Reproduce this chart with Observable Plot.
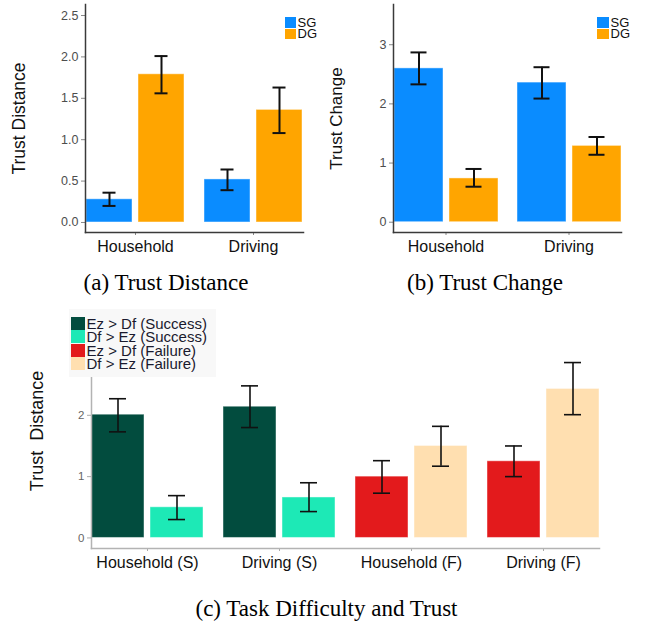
<!DOCTYPE html>
<html><head><meta charset="utf-8">
<script src="https://cdn.jsdelivr.net/npm/d3@7"></script>
<script src="https://cdn.jsdelivr.net/npm/@observablehq/plot@0.6"></script>
<style>
body{margin:0;background:#fff;}
#root{position:relative;width:652px;height:629px;overflow:hidden;font-family:"Liberation Sans",Arial,sans-serif;}
.panel{position:absolute;}
.panel svg{display:block;max-width:none;}
svg text{white-space:pre;}
.cap{position:absolute;font-family:"Liberation Serif","Times New Roman",serif;font-size:23px;line-height:23px;color:#000;text-align:center;white-space:nowrap;}
.leg{position:absolute;}
.leg .row{display:flex;align-items:center;white-space:nowrap;overflow:visible;}
.leg .lab{display:block;overflow:visible;}
</style></head>
<body><div id="root"></div>
<script>
// ---------- data: panels (a) and (b) ----------
const tasksAB = ["Household", "Driving"];
const guidanceAB = ["SG", "DG"];
const guidanceColors = ["#0A8CFF", "#FFA500"];
// order: Household SG, Household DG, Driving SG, Driving DG
const distanceMean = [0.28, 1.79, 0.52, 1.36];
const distanceLow  = [0.20, 1.56, 0.39, 1.08];
const distanceHigh = [0.36, 2.01, 0.64, 1.63];
const changeMean = [2.60, 0.74, 2.36, 1.29];
const changeLow  = [2.33, 0.60, 2.09, 1.14];
const changeHigh = [2.87, 0.90, 2.62, 1.44];
const distanceTicks = [0, 0.5, 1.0, 1.5, 2.0, 2.5];
const changeTicks = [0, 1, 2, 3];

// ---------- data: panel (c) ----------
const tasksC = ["Household (S)", "Driving (S)", "Household (F)", "Driving (F)"];
const conditionsC = ["Ez > Df (Success)", "Df > Ez (Success)", "Ez > Df (Failure)", "Df > Ez (Failure)"];
const conditionColors = ["#024C3E", "#1DE9B6", "#E31A1C", "#FFDFB0"];
// two bars per task, in order
const barTaskC = [0, 0, 1, 1, 2, 2, 3, 3];
const barConditionC = [0, 1, 0, 1, 2, 3, 2, 3];
const difficultyMean = [2.01, 0.50, 2.14, 0.66, 1.00, 1.50, 1.25, 2.43];
const difficultyLow  = [1.73, 0.30, 1.80, 0.43, 0.73, 1.17, 1.00, 2.01];
const difficultyHigh = [2.27, 0.69, 2.48, 0.90, 1.26, 1.82, 1.50, 2.86];
const difficultyTicks = [0, 1, 2, 3];

// ---------- build rows ----------
function rowsAB(mean, lo, hi) {
  const rows = [];
  tasksAB.forEach((t, i) => guidanceAB.forEach((g, j) => {
    const k = i * guidanceAB.length + j;
    rows.push({task: t, slot: j, group: g, mean: mean[k], lo: lo[k], hi: hi[k]});
  }));
  return rows;
}
const rowsA = rowsAB(distanceMean, distanceLow, distanceHigh);
const rowsB = rowsAB(changeMean, changeLow, changeHigh);
const rowsC = difficultyMean.map((m, k) => ({
  task: tasksC[barTaskC[k]], slot: k % 2, group: conditionsC[barConditionC[k]],
  mean: m, lo: difficultyLow[k], hi: difficultyHigh[k]
}));

const root = document.getElementById("root");

function chart(cfg) {
  const p = Plot.plot({
    width: cfg.width, height: cfg.height,
    marginLeft: cfg.ml, marginRight: cfg.mr, marginTop: cfg.mt, marginBottom: cfg.mb,
    style: {fontFamily: "'Liberation Sans', Arial, sans-serif", background: "transparent", overflow: "visible"},
    fx: {domain: cfg.tasks, paddingInner: 0.15, paddingOuter: 0.172, label: null},
    x: {domain: [0, 1], paddingInner: 0.11, paddingOuter: 0, axis: null},
    y: {domain: cfg.yDomain},
    color: {domain: cfg.colorDomain, range: cfg.colorRange},
    marks: [
      Plot.barY(cfg.rows, {fx: "task", x: "slot", y1: 0, y2: "mean", fill: "group",
        stroke: "#ffffff", strokeOpacity: 0.45, strokeWidth: 1}),
      Plot.ruleX(cfg.rows, {fx: "task", x: "slot", y1: "lo", y2: "hi", stroke: "#111", strokeWidth: cfg.ew}),
      Plot.tickY(cfg.rows, {fx: "task", x: "slot", y: "lo", stroke: "#111", strokeWidth: cfg.ew, insetLeft: cfg.capInset, insetRight: cfg.capInset}),
      Plot.tickY(cfg.rows, {fx: "task", x: "slot", y: "hi", stroke: "#111", strokeWidth: cfg.ew, insetLeft: cfg.capInset, insetRight: cfg.capInset}),
      Plot.axisY({ticks: cfg.yTicks, tickFormat: cfg.yFormat, tickSize: 4, tickPadding: 3,
        fontSize: cfg.tickFs, color: cfg.tickText, stroke: cfg.tickColor, label: null}),
      Plot.axisY({ticks: [], tickSize: 0, label: cfg.yLabel, labelAnchor: "center", labelArrow: "none",
        labelOffset: cfg.labelOffset, fontSize: cfg.labelFs, color: "#111"}),
      Plot.axisFx({anchor: "bottom", tickSize: 3, tickPadding: 5, fontSize: 16, color: "#111",
        stroke: cfg.tickColor, label: null}),
      Plot.frame({anchor: "left", facet: "super", stroke: cfg.axisColor, strokeWidth: 1.5}),
      Plot.frame({anchor: "bottom", facet: "super", stroke: cfg.axisColor, strokeWidth: 1.5})
    ]
  });
  const div = document.createElement("div");
  div.className = "panel";
  div.style.left = cfg.left + "px";
  div.style.top = cfg.top + "px";
  div.style.width = cfg.width + "px";
  div.appendChild(p);
  root.appendChild(div);
}

chart({left: 0, top: 0, width: 330, height: 262, ml: 64, mr: 6, mt: 4, mb: 30,
  tasks: tasksAB, rows: rowsA, yDomain: [-0.121, 2.633], yTicks: distanceTicks, yFormat: ".1f",
  colorDomain: guidanceAB, colorRange: guidanceColors, ew: 2, capInset: 16.5, tickFs: 12.5,
  tickText: "#4d4d4d", tickColor: "#888", axisColor: "#3a3a3a",
  yLabel: "Trust Distance", labelOffset: 72.5, labelFs: 17.5});

chart({left: 320, top: 0, width: 332, height: 262, ml: 51, mr: 10, mt: 4, mb: 30,
  tasks: tasksAB, rows: rowsB, yDomain: [-0.174, 3.68], yTicks: changeTicks, yFormat: "d",
  colorDomain: guidanceAB, colorRange: guidanceColors, ew: 2, capInset: 16.5, tickFs: 12.5,
  tickText: "#4d4d4d", tickColor: "#888", axisColor: "#3a3a3a",
  yLabel: "Trust Change", labelOffset: 64, labelFs: 17});

chart({left: 0, top: 300, width: 652, height: 280, ml: 67, mr: 29, mt: 13, mb: 32,
  tasks: tasksC, rows: rowsC, yDomain: [-0.172, 3.66], yTicks: difficultyTicks, yFormat: "d",
  colorDomain: conditionsC, colorRange: conditionColors, ew: 1.6, capInset: 18, tickFs: 11.5,
  tickText: "#666", tickColor: "#aaa", axisColor: "#b3b3b3",
  yLabel: "Trust  Distance", labelOffset: 61.5, labelFs: 18});

// ---------- legends ----------
function legend(items, colors, cfg) {
  const d = document.createElement("div");
  d.className = "leg";
  d.style.left = cfg.left + "px";
  d.style.top = cfg.top + "px";
  if (cfg.bg) d.style.background = cfg.bg;
  if (cfg.pad) d.style.padding = cfg.pad;
  items.forEach((name, i) => {
    const r = document.createElement("div");
    r.className = "row";
    r.style.height = cfg.rowH + "px";
    const sw = document.createElement("span");
    sw.style.cssText = `display:inline-block;flex:none;width:${cfg.sw}px;height:${cfg.swH}px;background:${colors[i]};margin-right:${cfg.gap}px;`;
    const t = document.createElement("span");
    t.className = "lab";
    t.textContent = name;
    t.style.cssText = `font-size:${cfg.fs}px;line-height:${cfg.rowH}px;height:${cfg.rowH}px;color:${cfg.color};`;
    r.appendChild(sw); r.appendChild(t);
    d.appendChild(r);
  });
  root.appendChild(d);
}
legend(guidanceAB, guidanceColors, {left: 285, top: 17, rowH: 11.3, sw: 11, swH: 10.5, gap: 1.5, fs: 13, color: "#111"});
legend(guidanceAB, guidanceColors, {left: 597, top: 17, rowH: 11.3, sw: 12, swH: 10.5, gap: 1.5, fs: 13, color: "#111"});
legend(conditionsC, conditionColors, {left: 69, top: 309, rowH: 13.5, sw: 14, swH: 13, gap: 1.5, fs: 15,
  color: "#1a1a2e", bg: "#f8f8f8", pad: "7.5px 9px 6.5px 2px"});

// ---------- captions ----------
function caption(text, center, baseline) {
  const c = document.createElement("div");
  c.className = "cap";
  c.textContent = text;
  c.style.left = (center - 200) + "px";
  c.style.width = "400px";
  c.style.top = (baseline - 19.2) + "px";
  root.appendChild(c);
}
caption("(a) Trust Distance", 166, 290);
caption("(b) Trust Change", 485, 290);
caption("(c) Task Difficulty and Trust", 326.5, 616.5);
</script>
</body></html>
